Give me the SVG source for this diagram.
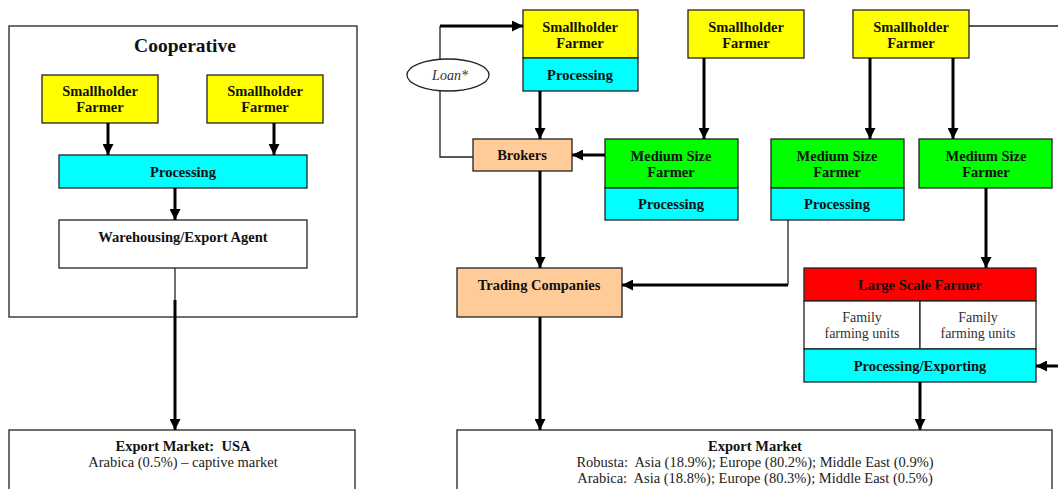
<svg xmlns="http://www.w3.org/2000/svg" width="1058" height="489" viewBox="0 0 1058 489">
  <style>
    .box { stroke: #222; stroke-width: 1.3; }
    .yellow { fill: #FFFF00; }
    .cyan { fill: #00FFFF; }
    .green { fill: #00FF00; }
    .orange { fill: #FFCC99; }
    .red { fill: #FF0000; }
    .white { fill: #FFFFFF; }
    .lbl { font-family: "Liberation Serif", "Times New Roman", serif; font-size: 14.5px; font-weight: bold; fill: #111; text-anchor: middle; white-space: pre; }
    .txt { font-family: "Liberation Serif", "Times New Roman", serif; font-size: 14px; fill: #333; text-anchor: middle; white-space: pre; }
    .mkt { font-size: 14.5px; fill: #222; }
    .title { font-family: "Liberation Serif", "Times New Roman", serif; font-size: 19.5px; font-weight: bold; fill: #111; text-anchor: middle; }
    .thick { stroke: #000; stroke-width: 3; fill: none; }
    .thin { stroke: #222; stroke-width: 1.3; fill: none; }
  </style>
  <defs>
    <marker id="arrow" viewBox="0 0 10 10" refX="10" refY="5" markerWidth="11" markerHeight="11" markerUnits="userSpaceOnUse" orient="auto">
      <path d="M0,0 L10,5 L0,10 z" fill="#000"/>
    </marker>
  </defs>
  <rect width="1058" height="489" fill="#FFFFFF"/>

  <!-- Cooperative frame -->
  <g id="cooperative">
    <rect x="9" y="26" width="348" height="291" class="box" fill="none"/>
    <text x="185" y="52" class="title">Cooperative</text>
  </g>
  <g id="coop-farmer-1">
    <rect x="42" y="75" width="116" height="48" class="box yellow"/>
    <text x="100" y="96" class="lbl">Smallholder</text>
    <text x="100" y="112" class="lbl">Farmer</text>
  </g>
  <g id="coop-farmer-2">
    <rect x="207" y="75" width="116" height="48" class="box yellow"/>
    <text x="265" y="96" class="lbl">Smallholder</text>
    <text x="265" y="112" class="lbl">Farmer</text>
  </g>
  <g id="coop-processing">
    <rect x="59" y="155" width="248" height="33" class="box cyan"/>
    <text x="183" y="177" class="lbl">Processing</text>
  </g>
  <g id="coop-warehouse">
    <rect x="59" y="220" width="248" height="48" class="box white"/>
    <text x="183" y="242" class="lbl">Warehousing/Export Agent</text>
  </g>
  <g id="export-usa">
    <rect x="9" y="430" width="346" height="70" class="box white"/>
    <text x="183" y="451" class="lbl">Export Market:  USA</text>
    <text x="183" y="467" class="txt mkt">Arabica (0.5%) – captive market</text>
  </g>

  <!-- Private chain -->
  <g id="loan">
    <ellipse cx="448" cy="75" rx="41" ry="16" fill="#FFFFFF" stroke="#222" stroke-width="1.3"/>
    <text x="450" y="80" class="txt" font-style="italic">Loan*</text>
  </g>
  <g id="sh-farmer-a">
    <rect x="523" y="10" width="115" height="48" class="box yellow"/>
    <text x="580" y="32" class="lbl">Smallholder</text>
    <text x="580" y="48" class="lbl">Farmer</text>
    <rect x="523" y="58" width="115" height="33" class="box cyan"/>
    <text x="580" y="80" class="lbl">Processing</text>
  </g>
  <g id="sh-farmer-b">
    <rect x="688" y="10" width="116" height="48" class="box yellow"/>
    <text x="746" y="32" class="lbl">Smallholder</text>
    <text x="746" y="48" class="lbl">Farmer</text>
  </g>
  <g id="sh-farmer-c">
    <rect x="853" y="10" width="116" height="48" class="box yellow"/>
    <text x="911" y="32" class="lbl">Smallholder</text>
    <text x="911" y="48" class="lbl">Farmer</text>
  </g>
  <g id="brokers">
    <rect x="473" y="139" width="99" height="32" class="box orange"/>
    <text x="522" y="160" class="lbl">Brokers</text>
  </g>
  <g id="medium-a">
    <rect x="605" y="139" width="133" height="49" class="box green"/>
    <text x="671" y="161" class="lbl">Medium Size</text>
    <text x="671" y="177" class="lbl">Farmer</text>
    <rect x="605" y="188" width="133" height="32" class="box cyan"/>
    <text x="671" y="209" class="lbl">Processing</text>
  </g>
  <g id="medium-b">
    <rect x="771" y="139" width="133" height="49" class="box green"/>
    <text x="837" y="161" class="lbl">Medium Size</text>
    <text x="837" y="177" class="lbl">Farmer</text>
    <rect x="771" y="188" width="133" height="32" class="box cyan"/>
    <text x="837" y="209" class="lbl">Processing</text>
  </g>
  <g id="medium-c">
    <rect x="919" y="139" width="133" height="49" class="box green"/>
    <text x="986" y="161" class="lbl">Medium Size</text>
    <text x="986" y="177" class="lbl">Farmer</text>
  </g>
  <g id="trading">
    <rect x="457" y="268" width="165" height="49" class="box orange"/>
    <text x="539" y="290" class="lbl">Trading Companies</text>
  </g>
  <g id="large-scale">
    <rect x="804" y="268" width="232" height="33" class="box red"/>
    <text x="920" y="290" class="lbl">Large Scale Farmer</text>
    <rect x="804" y="301" width="116" height="48" class="box white"/>
    <rect x="920" y="301" width="116" height="48" class="box white"/>
    <text x="862" y="322" class="txt">Family</text>
    <text x="862" y="338" class="txt">farming units</text>
    <text x="978" y="322" class="txt">Family</text>
    <text x="978" y="338" class="txt">farming units</text>
    <rect x="804" y="349" width="232" height="33" class="box cyan"/>
    <text x="920" y="371" class="lbl">Processing/Exporting</text>
  </g>
  <g id="export-main">
    <rect x="457" y="430" width="595" height="70" class="box white"/>
    <text x="755" y="451" class="lbl">Export Market</text>
    <text x="755" y="467" class="txt mkt">Robusta:  Asia (18.9%); Europe (80.2%); Middle East (0.9%)</text>
    <text x="755" y="483" class="txt mkt">Arabica:  Asia (18.8%); Europe (80.3%); Middle East (0.5%)</text>
  </g>

  <!-- Connectors -->
  <g id="connectors">
    <line x1="108" y1="123" x2="108" y2="155" class="thick" marker-end="url(#arrow)"/>
    <line x1="274" y1="123" x2="274" y2="155" class="thick" marker-end="url(#arrow)"/>
    <line x1="175" y1="188" x2="175" y2="220" class="thick" marker-end="url(#arrow)"/>
    <line x1="175" y1="268" x2="175" y2="300" class="thin"/>
    <line x1="175" y1="300" x2="175" y2="430" class="thick" marker-end="url(#arrow)"/>

    <polyline points="473,157 440,157 440,91" class="thin"/>
    <line x1="440" y1="59" x2="440" y2="26" class="thin"/>
    <line x1="440" y1="26" x2="523" y2="26" class="thick" marker-end="url(#arrow)"/>
    <line x1="540" y1="91" x2="540" y2="139" class="thick" marker-end="url(#arrow)"/>
    <line x1="605" y1="155" x2="572" y2="155" class="thick" marker-end="url(#arrow)"/>
    <line x1="704" y1="58" x2="704" y2="139" class="thick" marker-end="url(#arrow)"/>
    <line x1="870" y1="58" x2="870" y2="139" class="thick" marker-end="url(#arrow)"/>
    <line x1="953" y1="58" x2="953" y2="139" class="thick" marker-end="url(#arrow)"/>
    <line x1="969" y1="26" x2="1058" y2="26" class="thin"/>
    <line x1="986" y1="188" x2="986" y2="268" class="thick" marker-end="url(#arrow)"/>
    <line x1="788" y1="220" x2="788" y2="285" class="thin"/>
    <line x1="788" y1="285" x2="622" y2="285" class="thick" marker-end="url(#arrow)"/>
    <line x1="540" y1="171" x2="540" y2="268" class="thick" marker-end="url(#arrow)"/>
    <line x1="540" y1="317" x2="540" y2="430" class="thick" marker-end="url(#arrow)"/>
    <line x1="920" y1="382" x2="920" y2="430" class="thick" marker-end="url(#arrow)"/>
    <line x1="1058" y1="366" x2="1036" y2="366" class="thick" marker-end="url(#arrow)"/>
  </g>
</svg>
